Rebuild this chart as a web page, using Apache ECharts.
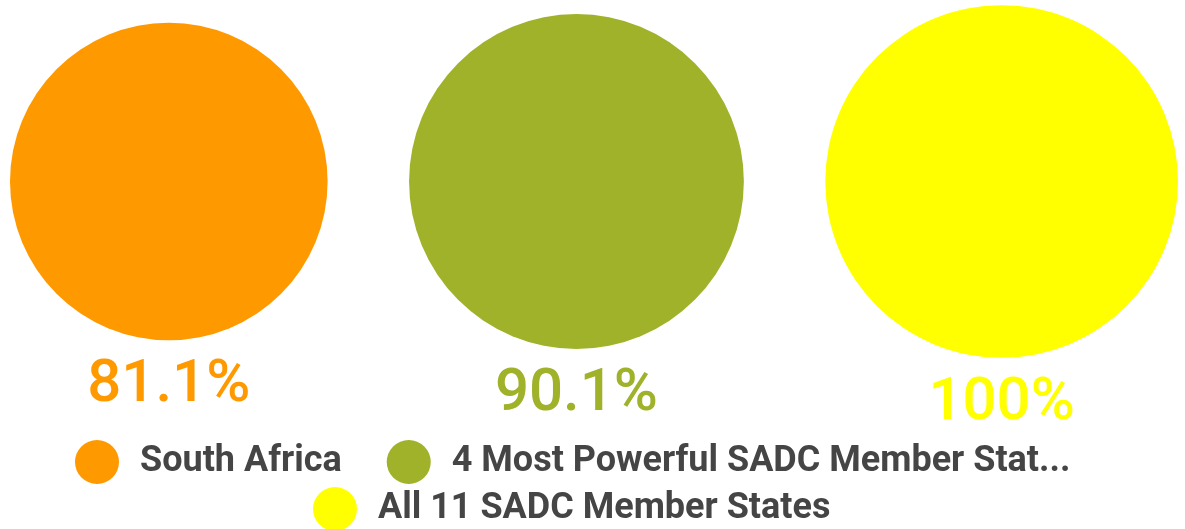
<!DOCTYPE html>
<html>
<head>
<meta charset="utf-8">
<script src="https://cdn.jsdelivr.net/npm/echarts@6/dist/echarts.min.js"></script>
<style>html,body{margin:0;padding:0;background:#fff;}#c{width:1185px;height:529px;}</style>
</head>
<body>
<div id="c"></div>
<script>
const categories = ['South Africa', '4 Most Powerful SADC Member States', 'All 11 SADC Member States'];
const values = [81.1, 90.1, 100];
const colors = ['#FF9900', '#9FB22A', '#FFFF00'];

// layout in "radius units" (radius of the largest bubble = 1), area proportional to value
const maxVal = Math.max(...values);
const radii = values.map(v => Math.sqrt(v / maxVal));
const GAP = 0.462;
const centers = [];
let cursor = 0;
radii.forEach((r, i) => { cursor += (i ? GAP : 0) + r; centers.push(cursor); cursor += r; });
const totalUnits = cursor;

const chart = echarts.init(document.getElementById('c'), null, {renderer: 'canvas'});

const series = categories.map((name, i) => ({
  type: 'custom',
  name: name,
  coordinateSystem: 'cartesian2d',
  itemStyle: {color: colors[i]},
  data: [[centers[i], radii[i], values[i]]],
  renderItem: function (params, api) {
    const c = api.coord([api.value(0), 0]);
    const r = api.size([api.value(1), 0])[0];
    return {
      type: 'group',
      children: [
        {type: 'circle', shape: {cx: c[0], cy: c[1], r: r}, style: {fill: colors[i]}},
        {type: 'text', x: c[0], y: c[1] + r + 46,
          style: {text: api.value(2) + '%', fill: colors[i], fontSize: 60, fontWeight: 500,
            fontFamily: 'Roboto', align: 'center', verticalAlign: 'middle'}}
      ]
    };
  }
}));

const legendCommon = {
  icon: 'circle',
  itemWidth: 76,
  itemHeight: 44,
  itemGap: 45,
  orient: 'horizontal',
  formatter: n => n.length > 32 ? n.slice(0, 32) + '...' : n,
  textStyle: {fontSize: 36, fontWeight: 'bold', fontFamily: 'Roboto', color: '#454545'}
};

chart.setOption({
  animation: false,
  backgroundColor: '#ffffff',
  grid: {left: 10, width: 1168, top: 5, height: 353},
  xAxis: {type: 'value', min: 0, max: totalUnits, show: false},
  yAxis: {type: 'value', min: -1, max: 1, show: false},
  legend: [
    Object.assign({}, legendCommon, {data: [categories[0], categories[1]], left: 70, top: 435}),
    Object.assign({}, legendCommon, {data: [categories[2]], left: 308, top: 482})
  ],
  series: series
});
</script>
</body>
</html>
